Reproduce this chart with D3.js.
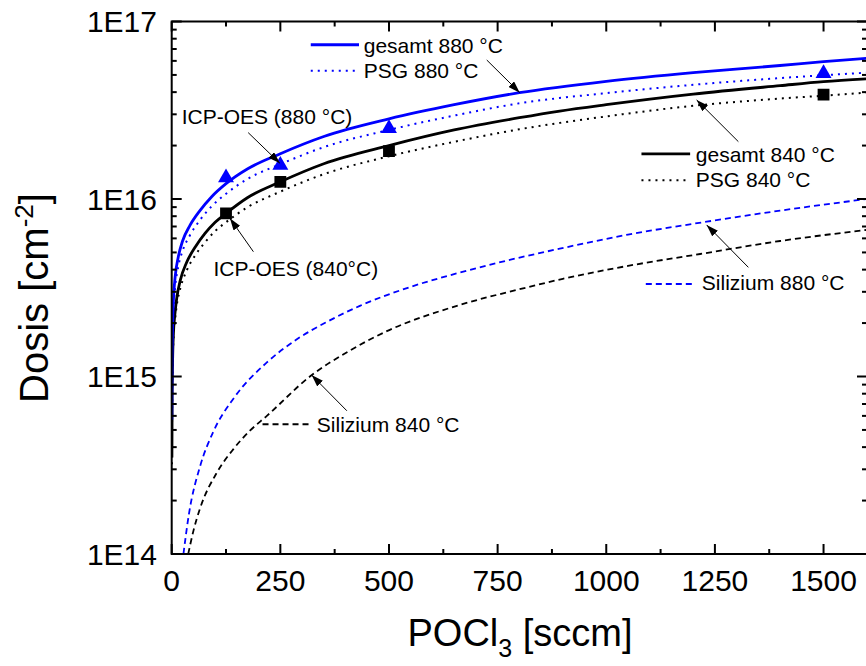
<!DOCTYPE html>
<html><head><meta charset="utf-8">
<script src="https://cdn.jsdelivr.net/npm/d3@7"></script>
<style>
html,body{margin:0;padding:0;background:#fff;}
svg{display:block;font-family:"Liberation Sans",Arial,sans-serif;}
</style></head>
<body><svg id="chart" width="866" height="666"></svg>
<script>
// ---------- data ----------
const xTicks = [0, 250, 500, 750, 1000, 1250, 1500];
const yTickLabels = ["1E14", "1E15", "1E16", "1E17"];

const gesamt880X = [0.3, 1, 2, 4, 8, 15, 25, 42, 65, 92, 125, 175, 250, 350, 500, 650, 800, 1000, 1200, 1400, 1500, 1600];
const gesamt880Y = [5.7e14, 1.3e15, 1.9e15, 2.7e15, 3.65e15, 4.7e15, 5.8e15, 7.1e15, 8.6e15, 1.03e16, 1.22e16, 1.48e16, 1.8e16, 2.25e16, 2.83e16, 3.4e16, 3.97e16, 4.6e16, 5.15e16, 5.65e16, 5.95e16, 6.2e16];

const psg880X = [0.3, 1, 2, 4, 8, 15, 25, 42, 65, 92, 125, 175, 250, 350, 500, 650, 800, 1000, 1200, 1400, 1500, 1600];
const psg880Y = [5.0e14, 1.15e15, 1.7e15, 2.4e15, 3.2e15, 4.15e15, 5.1e15, 6.25e15, 7.6e15, 9.1e15, 1.07e16, 1.3e16, 1.57e16, 1.96e16, 2.45e16, 2.95e16, 3.46e16, 3.95e16, 4.4e16, 4.8e16, 4.98e16, 5.15e16];

const gesamt840X = [0.5, 1, 2, 4, 7, 11.5, 20, 34.5, 55, 76.6, 100, 125, 175, 250, 350, 500, 650, 800, 893, 1000, 1200, 1400, 1500, 1600];
const gesamt840Y = [3.5e14, 7.4e14, 1.2e15, 1.75e15, 2.2e15, 2.75e15, 3.5e15, 4.4e15, 5.4e15, 6.4e15, 7.4e15, 8.3e15, 1.02e16, 1.25e16, 1.58e16, 2.0e16, 2.45e16, 2.87e16, 3.13e16, 3.4e16, 3.9e16, 4.35e16, 4.58e16, 4.75e16];

const psg840X = [0.5, 1, 2, 4, 7, 11.5, 20, 34.5, 55, 76.6, 100, 125, 175, 250, 350, 500, 650, 800, 1000, 1200, 1400, 1500, 1600];
const psg840Y = [3.2e14, 6.8e14, 1.1e15, 1.6e15, 2.0e15, 2.5e15, 3.15e15, 3.95e15, 4.85e15, 5.7e15, 6.6e15, 7.4e15, 9.0e15, 1.1e16, 1.38e16, 1.74e16, 2.1e16, 2.47e16, 2.92e16, 3.35e16, 3.68e16, 3.82e16, 3.98e16];

const si880X = [27, 40, 65, 96, 142, 219, 288, 357, 433, 550, 663, 780, 893, 1050, 1231, 1400, 1600];
const si880Y = [1.0e14, 1.7e14, 3.1e14, 4.9e14, 7.5e14, 1.2e15, 1.62e15, 2.03e15, 2.5e15, 3.2e15, 3.85e15, 4.55e15, 5.25e15, 6.3e15, 7.45e15, 8.6e15, 1.0e16];

const si840X = [38, 50, 65, 103, 142, 180, 219, 318, 410, 495, 663, 800, 900, 1050, 1216, 1400, 1600];
const si840Y = [1.0e14, 1.35e14, 1.8e14, 2.85e14, 3.9e14, 4.95e14, 6.0e14, 1.0e15, 1.4e15, 1.8e15, 2.53e15, 3.1e15, 3.55e15, 4.2e15, 4.9e15, 5.8e15, 6.7e15];

const icpX = [125, 250, 500, 1500];
const icp880Y = [1.32e16, 1.55e16, 2.5e16, 5.1e16];
const icp840Y = [8.3e15, 1.25e16, 1.86e16, 3.87e16];

// ---------- layout ----------
const M = {left: 171.7, top: 21.5, right: 867, bottom: 554};
const svg = d3.select("#chart");
const x = d3.scaleLinear().domain([0, 1600]).range([M.left, M.right]);
const y = d3.scaleLog().domain([1e14, 1e17]).range([M.bottom, M.top]);
const BLUE = "#0000ff";

const defs = svg.append("defs");
defs.append("clipPath").attr("id", "clip").append("rect")
  .attr("x", M.left).attr("y", M.top).attr("width", M.right - M.left).attr("height", M.bottom - M.top);
defs.append("marker").attr("id", "ah").attr("viewBox", "0 0 12 8")
  .attr("refX", 12).attr("refY", 4).attr("markerWidth", 12).attr("markerHeight", 8)
  .attr("markerUnits", "userSpaceOnUse").attr("orient", "auto")
  .append("path").attr("d", "M0,0 L12,4 L0,8 Z").attr("fill", "#000");

// ---------- curves ----------
const line = d3.line().x(d => x(d[0])).y(d => y(d[1])).curve(d3.curveMonotoneX);
const zip = (a, b) => a.map((v, i) => [v, b[i]]);
const series = [
  {xs: si840X, ys: si840Y, color: "#000", w: 1.8, dash: "6,4"},
  {xs: si880X, ys: si880Y, color: BLUE, w: 1.8, dash: "6,4"},
  {xs: psg840X, ys: psg840Y, color: "#000", w: 2, dash: "2,5"},
  {xs: psg880X, ys: psg880Y, color: BLUE, w: 2, dash: "2,5"},
  {xs: gesamt840X, ys: gesamt840Y, color: "#000", w: 2.8, dash: null},
  {xs: gesamt880X, ys: gesamt880Y, color: BLUE, w: 2.8, dash: null}
];
const gc = svg.append("g").attr("clip-path", "url(#clip)");
series.forEach(s => {
  gc.append("path").datum(zip(s.xs, s.ys)).attr("d", line)
    .attr("fill", "none").attr("stroke", s.color).attr("stroke-width", s.w)
    .attr("stroke-dasharray", s.dash);
});

// ---------- markers ----------
gc.selectAll(".sq").data(zip(icpX, icp840Y)).enter().append("path")
  .attr("d", d3.symbol().type(d3.symbolSquare).size(140))
  .attr("transform", d => `translate(${x(d[0])},${y(d[1])})`).attr("fill", "#000");
gc.selectAll(".tri").data(zip(icpX, icp880Y)).enter().append("path")
  .attr("d", d3.symbol().type(d3.symbolTriangle).size(110))
  .attr("transform", d => `translate(${x(d[0])},${y(d[1])})`).attr("fill", BLUE);

// ---------- axes ----------
const ax = svg.append("g").attr("stroke", "#000").attr("stroke-width", 2);
const minorX = d3.range(125, 1600, 250);
const decades = [1e14, 1e15, 1e16, 1e17];
const minorY = [];
[1e14, 1e15, 1e16].forEach(d => { for (let k = 2; k <= 9; k++) minorY.push(d * k); });
ax.append("path").attr("fill", "none")
  .attr("d", `M${M.right},${M.top}H${M.left}V${M.bottom}H${M.right}V${M.top}`);
xTicks.forEach(v => {
  ax.append("line").attr("x1", x(v)).attr("x2", x(v)).attr("y1", M.bottom).attr("y2", M.bottom - 10);
  ax.append("line").attr("x1", x(v)).attr("x2", x(v)).attr("y1", M.top).attr("y2", M.top + 10);
});
minorX.forEach(v => {
  ax.append("line").attr("x1", x(v)).attr("x2", x(v)).attr("y1", M.bottom).attr("y2", M.bottom - 5);
  ax.append("line").attr("x1", x(v)).attr("x2", x(v)).attr("y1", M.top).attr("y2", M.top + 5);
});
decades.forEach(v => {
  ax.append("line").attr("x1", M.left).attr("x2", M.left + 10).attr("y1", y(v)).attr("y2", y(v));
  ax.append("line").attr("x1", M.right).attr("x2", M.right - 10).attr("y1", y(v)).attr("y2", y(v));
});
minorY.forEach(v => {
  ax.append("line").attr("x1", M.left).attr("x2", M.left + 5).attr("y1", y(v)).attr("y2", y(v));
  ax.append("line").attr("x1", M.right).attr("x2", M.right - 5).attr("y1", y(v)).attr("y2", y(v));
});
svg.append("g").selectAll("text").data(xTicks).enter().append("text")
  .attr("x", d => x(d)).attr("y", 591).attr("text-anchor", "middle")
  .attr("font-size", 30).text(d => d);
svg.append("g").selectAll("text").data(decades).enter().append("text")
  .attr("x", 157).attr("y", (d) => y(d) + 10.7).attr("text-anchor", "end")
  .attr("font-size", 30).text((d, i) => yTickLabels[i]);

// axis titles
const xt = svg.append("text").attr("x", 520).attr("y", 646)
  .attr("text-anchor", "middle").attr("font-size", 38);
xt.append("tspan").text("POCl");
xt.append("tspan").attr("font-size", 25).attr("dy", 11).text("3");
xt.append("tspan").attr("dy", -11).text(" [sccm]");
const yt = svg.append("text").attr("transform", `translate(48,298) rotate(-90)`)
  .attr("text-anchor", "middle").attr("font-size", 40);
yt.append("tspan").text("Dosis [cm");
yt.append("tspan").attr("font-size", 26).attr("dy", -15).text("-2");
yt.append("tspan").attr("dy", 15).text("]");

// ---------- annotations (data coords: x in sccm, log10 dose) ----------
const L = v => Math.pow(10, v);
const legendRows = [
  {x1: 320, x2: 431, ly: 16.869, tx: 442, ty: 16.823, text: "gesamt 880 °C", color: BLUE, w: 2.8, dash: null},
  {x1: 320, x2: 431, ly: 16.723, tx: 442, ty: 16.680, text: "PSG 880 °C", color: BLUE, w: 2, dash: "2,5"},
  {x1: 1081, x2: 1193, ly: 16.254, tx: 1206, ty: 16.210, text: "gesamt 840 °C", color: "#000", w: 2.8, dash: null},
  {x1: 1081, x2: 1193, ly: 16.105, tx: 1206, ty: 16.066, text: "PSG 840 °C", color: "#000", w: 2, dash: "2,5"},
  {x1: 1091, x2: 1202, ly: 15.521, tx: 1220, ty: 15.487, text: "Silizium 880 °C", color: BLUE, w: 1.8, dash: "6,4"},
  {x1: 209, x2: 318, ly: 14.731, tx: 334, ty: 14.689, text: "Silizium 840 °C", color: "#000", w: 1.8, dash: "6,4"}
];
const labels = [
  {tx: 23, ty: 16.423, text: "ICP-OES (880 °C)"},
  {tx: 96, ty: 15.566, text: "ICP-OES (840°C)"}
];
const arrows = [
  {x1: 725, y1: 16.783, x2: 801, y2: 16.599},
  {x1: 1304, y1: 16.323, x2: 1208, y2: 16.558},
  {x1: 176, y1: 16.374, x2: 249, y2: 16.201},
  {x1: 188, y1: 15.703, x2: 134, y2: 15.891},
  {x1: 1327, y1: 15.615, x2: 1231, y2: 15.854},
  {x1: 403, y1: 14.807, x2: 322, y2: 15.008}
];
const ga = svg.append("g");
legendRows.forEach(r => {
  ga.append("line").attr("x1", x(r.x1)).attr("x2", x(r.x2)).attr("y1", y(L(r.ly))).attr("y2", y(L(r.ly)))
    .attr("stroke", r.color).attr("stroke-width", r.w).attr("stroke-dasharray", r.dash);
  ga.append("text").attr("x", x(r.tx)).attr("y", y(L(r.ty))).attr("font-size", 21).text(r.text);
});
labels.forEach(r => {
  ga.append("text").attr("x", x(r.tx)).attr("y", y(L(r.ty))).attr("font-size", 21).text(r.text);
});
arrows.forEach(a => {
  ga.append("line").attr("x1", x(a.x1)).attr("y1", y(L(a.y1))).attr("x2", x(a.x2)).attr("y2", y(L(a.y2)))
    .attr("stroke", "#000").attr("stroke-width", 1).attr("marker-end", "url(#ah)");
});
</script></body></html>
